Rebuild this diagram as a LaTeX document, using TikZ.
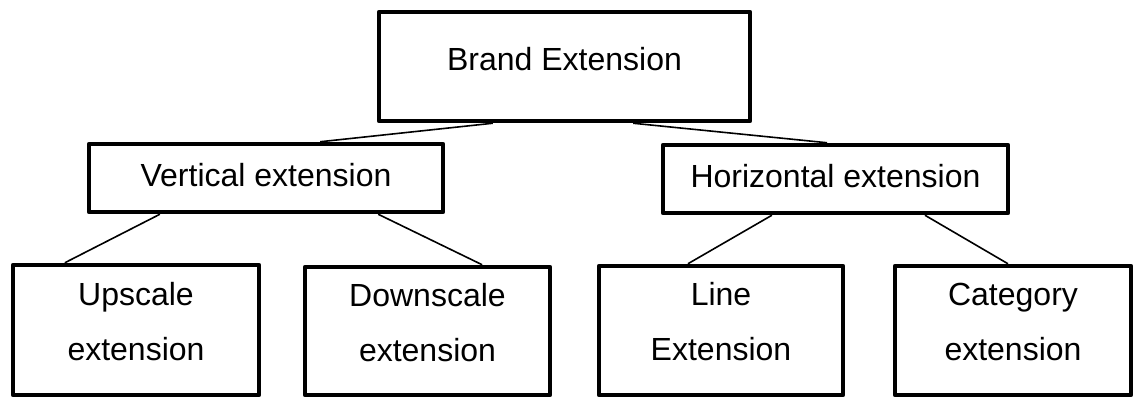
\documentclass[tikz,border=0pt]{standalone}
\usepackage{fontspec}
\setmainfont{Liberation Sans}
\usetikzlibrary{calc}
\usepackage{xcolor}
\definecolor{bxline}{HTML}{000000}
\definecolor{bxfill}{HTML}{FFFFFF}

\begin{document}
\begin{tikzpicture}[x=1pt, y=-1pt,
    font=\fontsize{32pt}{55pt}\selectfont,
    bx/.style={draw=bxline, fill=bxfill, line width=4.5pt, line join=round,
               align=center, inner sep=0pt},
    leaf/.style={bx, text height=78pt, text depth=18pt},
    link/.style={draw=bxline, line width=1.6pt}]
    \useasboundingbox (0,0) rectangle (1135,399);
    % top level
    \node[bx, minimum width=371pt, minimum height=109pt,
          text height=23pt, text depth=16pt] (brand) at (564.5,66.5) {Brand Extension};
    % second level
    \node[bx, minimum width=354pt, minimum height=68pt,
          text height=23pt, text depth=7pt] (vert) at (266,178) {Vertical extension};
    \node[bx, minimum width=345pt, minimum height=68pt,
          text height=23pt, text depth=7pt] (horiz) at (835.5,179) {Horizontal extension};
    % bottom level
    \node[leaf, minimum width=246pt, minimum height=130pt] (up) at (136,330) {Upscale\\extension};
    \node[leaf, minimum width=245pt, minimum height=128pt] (down) at (427.5,331) {Downscale\\extension};
    \node[leaf, minimum width=244pt, minimum height=129pt] (lineext) at (721,330.5) {Line\\Extension};
    \node[leaf, minimum width=236pt, minimum height=129pt] (cat) at (1013,330.5) {Category\\extension};
    % connectors
    \draw[link] ($(brand.south west)!0.309!(brand.south east)$) -- ($(vert.north west)!0.651!(vert.north east)$);
    \draw[link] ($(brand.south west)!0.683!(brand.south east)$) -- ($(horiz.north west)!0.476!(horiz.north east)$);
    \draw[link] ($(vert.south west)!0.204!(vert.south east)$) -- ($(up.north west)!0.216!(up.north east)$);
    \draw[link] ($(vert.south west)!0.813!(vert.south east)$) -- ($(down.north west)!0.719!(down.north east)$);
    \draw[link] ($(horiz.south west)!0.318!(horiz.south east)$) -- ($(lineext.north west)!0.367!(lineext.north east)$);
    \draw[link] ($(horiz.south west)!0.756!(horiz.south east)$) -- ($(cat.north west)!0.479!(cat.north east)$);
\end{tikzpicture}
\end{document}
